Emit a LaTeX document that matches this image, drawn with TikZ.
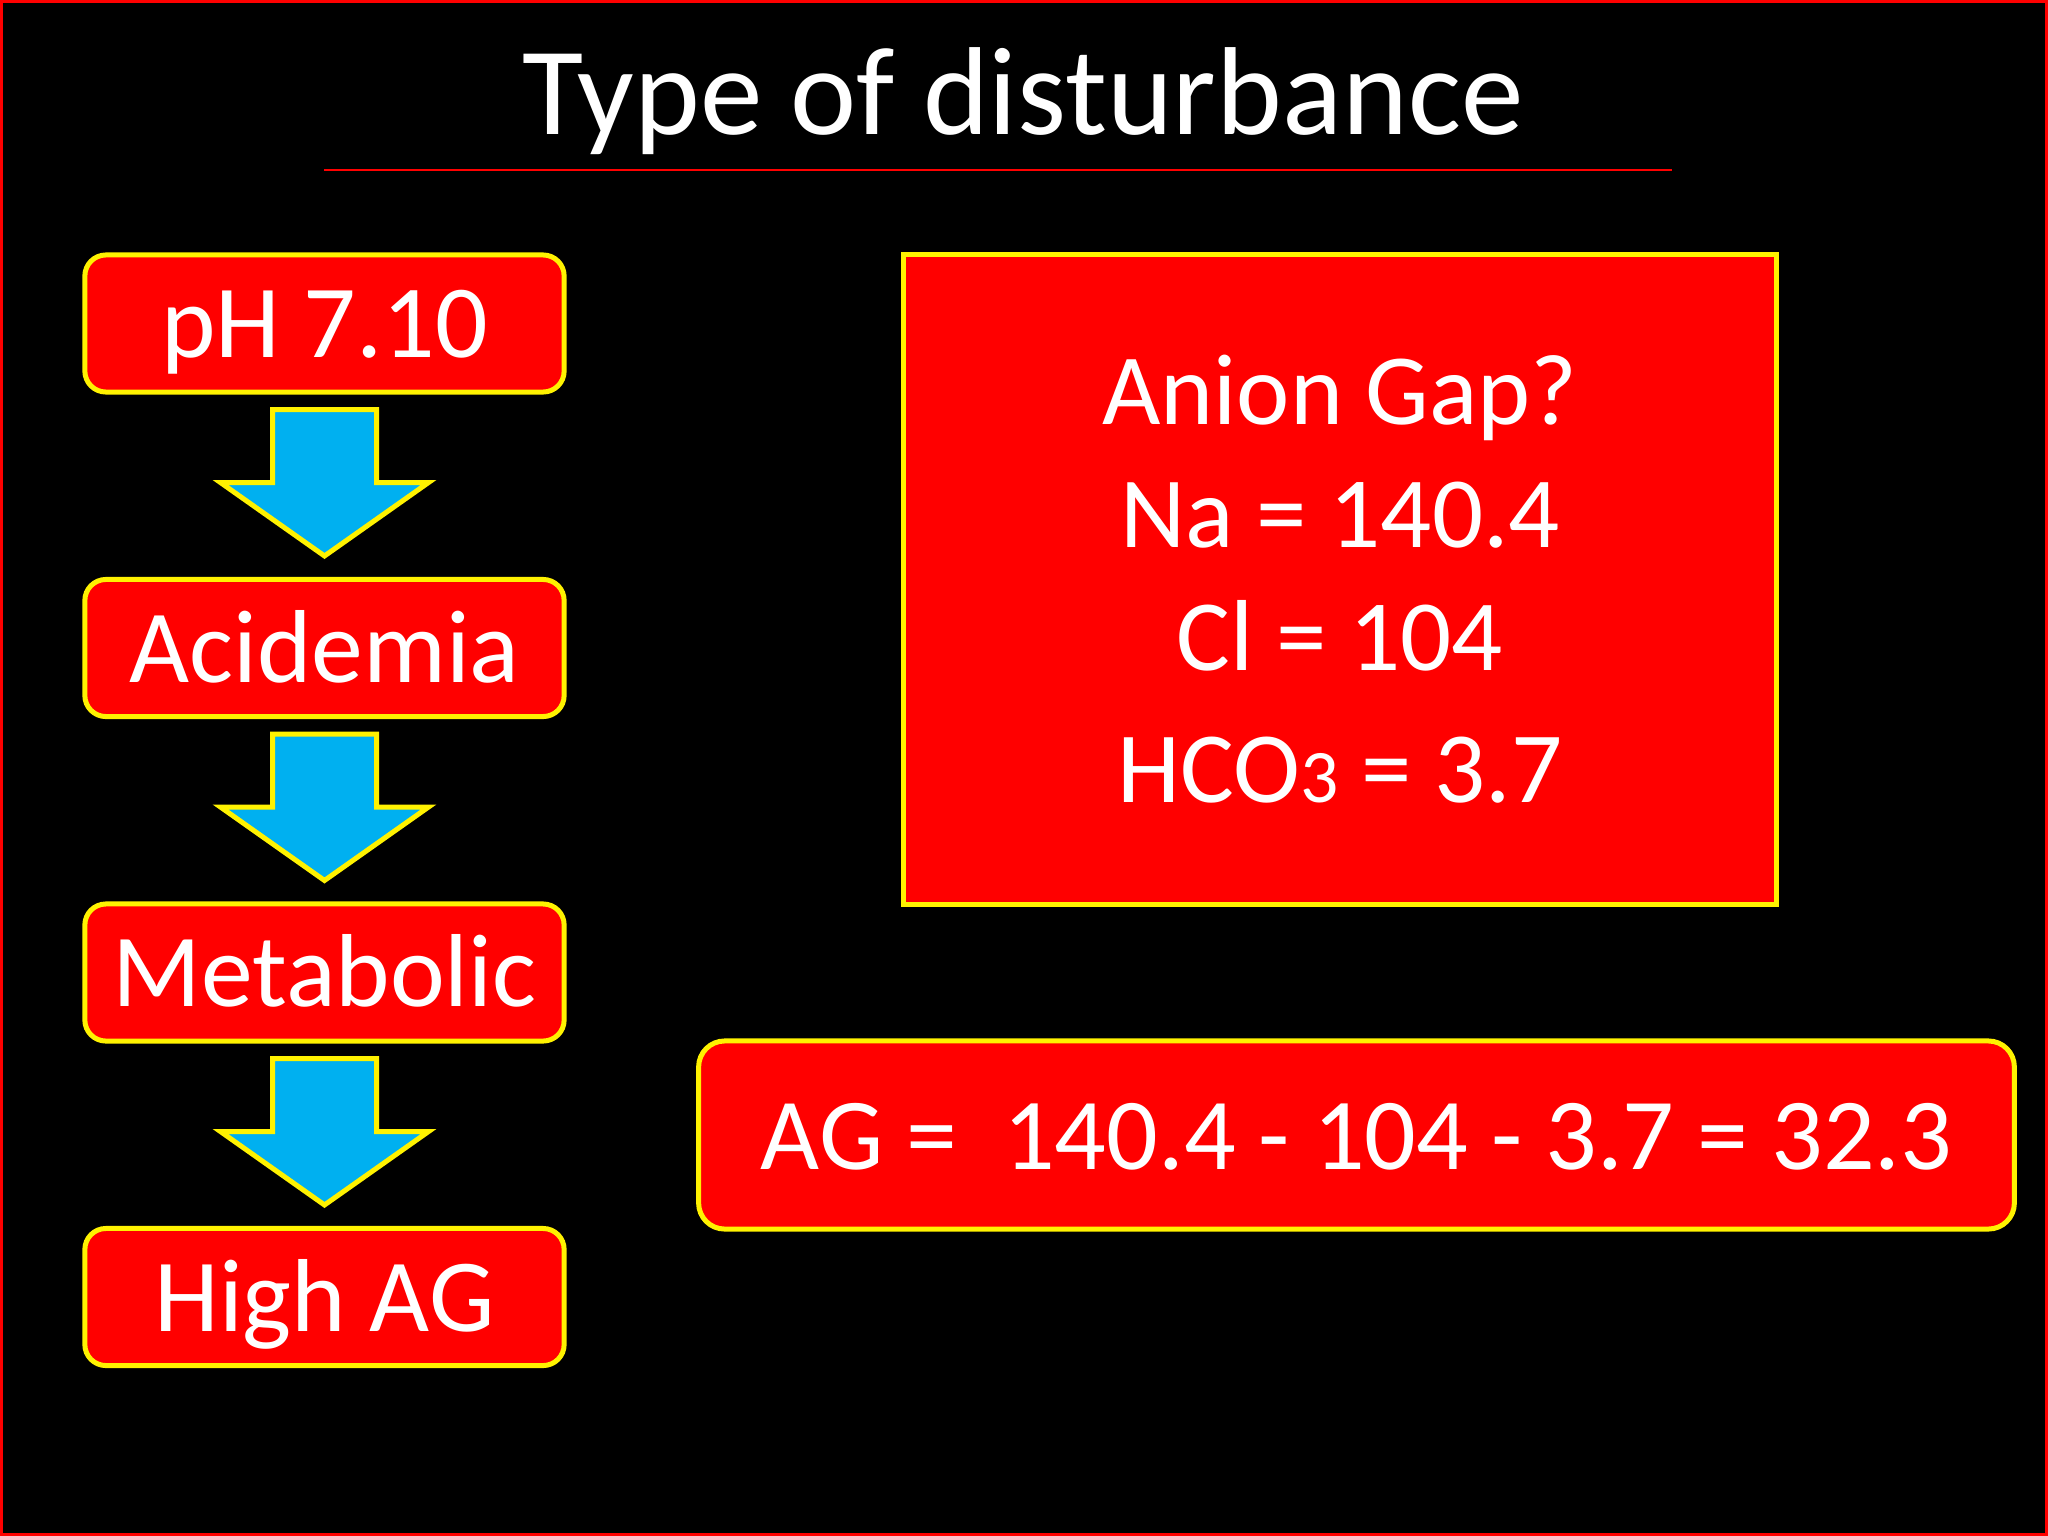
\documentclass[tikz,border=0pt]{standalone}
\usepackage{fontspec}
\setmainfont{Carlito}
\usetikzlibrary{calc}

\begin{document}
\begin{tikzpicture}[
		x = 0.01cm, y = -0.01cm,
		every node/.style = {text = white},
		stepbox/.style = {draw = yellow, line width = 0.05cm, fill = red, rounded corners = 0.21cm,
			minimum width = 4.79cm, minimum height = 1.37cm, inner sep = 0pt,
			text height = 0.68cm, text depth = 0pt, font = \fontsize{29.5}{34}\selectfont},
		downarrow/.style = {draw = yellow, line width = 0.05cm, fill = arrowblue, line join = miter},
	]
	\definecolor{arrowblue}{HTML}{00B0F0}

	\useasboundingbox (0,0) rectangle (2048,1536);
	\fill[black] (0,0) rectangle (2048,1536);
	\draw[red, line width = 0.03cm] (1.5,1.5) rectangle (2046.5,1534.5);

	% title
	\node[anchor = base, font = \fontsize{35.6}{40}\selectfont] (title) at (1023,134) {Type of disturbance};
	\draw[red, line width = 0.02cm] (324,170) -- (1672,170);

	% left column
	\node[stepbox] (ph) at (324.5,323.5) {pH 7.10};
	\node[stepbox] (acidemia) at (324.5,648) {Acidemia};
	\node[stepbox] (metabolic) at (324.5,972.5) {Metabolic};
	\node[stepbox] (highag) at (324.5,1297) {High AG};

	\foreach \a/\b in {ph/acidemia, acidemia/metabolic, metabolic/highag}
		\draw[downarrow] ($(\a.south)+(-52,15)$) -- ++(104,0) -- ++(0,73) -- ++(52,0)
			-- ($(\b.north)+(0,-21)$) -- ($(\a.south)+(-104,88)$) -- ($(\a.south)+(-52,88)$) -- cycle;

	% right side
	\node[draw = yellow, line width = 0.05cm, fill = red, minimum width = 8.72cm, minimum height = 6.49cm,
		align = center, font = \fontsize{28.7}{34.9}\selectfont] (gap) at (1340,579.5)
		{Anion Gap?\\Na = 140.4\\Cl = 104\\[0.1cm]HCO{\fontsize{21.5}{21}\selectfont 3} = 3.7};

	\node[draw = yellow, line width = 0.05cm, fill = red, rounded corners = 0.26cm,
		minimum width = 13.15cm, minimum height = 1.88cm, inner sep = 0pt,
		text height = 0.68cm, text depth = 0pt, font = \fontsize{29}{34}\selectfont] (ag) at (1356.5,1135)
		{AG =\ \ 140.4 - 104 - 3.7 = 32.3};

\end{tikzpicture}
\end{document}
